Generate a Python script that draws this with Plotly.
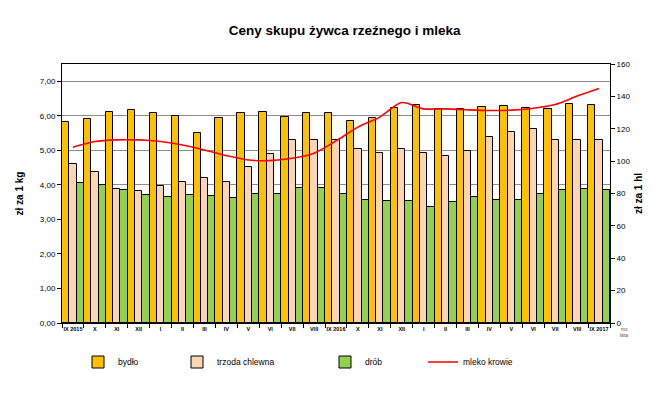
import plotly.graph_objects as go

months = ["IX 2015", "X", "XI", "XII", "I", "II", "III", "IV", "V", "VI", "VII", "VIII",
          "IX 2016", "X", "XI", "XII", "I", "II", "III", "IV", "V", "VI", "VII", "VIII", "IX 2017"]

bydlo = [5.82, 5.91, 6.11, 6.17, 6.09, 5.98, 5.50, 5.94, 6.09, 6.11, 5.97, 6.09,
         6.09, 5.85, 5.94, 6.23, 6.32, 6.20, 6.20, 6.26, 6.29, 6.23, 6.20, 6.35, 6.32]
trzoda = [4.60, 4.38, 3.88, 3.82, 3.96, 4.08, 4.20, 4.08, 4.52, 4.89, 5.30, 5.30,
          5.30, 5.04, 4.92, 5.04, 4.92, 4.84, 4.98, 5.39, 5.53, 5.62, 5.30, 5.30, 5.30]
drob = [4.05, 3.99, 3.85, 3.70, 3.64, 3.70, 3.67, 3.61, 3.73, 3.73, 3.91, 3.91,
        3.73, 3.56, 3.52, 3.52, 3.35, 3.50, 3.64, 3.56, 3.56, 3.73, 3.85, 3.88, 3.85]
mleko = [108.6, 112.1, 113.1, 113.1, 112.1, 110.0, 106.9, 103.4, 100.7, 100.3, 101.8, 104.9,
         112.5, 121.0, 127.2, 136.2, 132.3, 132.3, 131.7, 131.3, 131.5, 132.7, 135.0, 140.2, 144.9]

x = list(range(len(months)))
FONT = "Liberation Sans, Arial, sans-serif"
edge = dict(color="black", width=1)

L, R, T, B = 62, 47, 64, 73
W, H = 657, 396
PW, PH = W - L - R, H - T - B


def px_x(p):
    return (p - L) / PW


def px_y(p):
    return (H - B - p) / PH


fig = go.Figure()
fig.add_trace(go.Bar(x=x, y=bydlo, name="bydło", marker=dict(color="#FFC000", line=edge),
                     legend="legend"))
fig.add_trace(go.Bar(x=x, y=trzoda, name="trzoda chlewna", marker=dict(color="#FCD5B5", line=edge),
                     legend="legend2"))
fig.add_trace(go.Bar(x=x, y=drob, name="drób", marker=dict(color="#92D050", line=edge),
                     legend="legend3"))
fig.add_trace(go.Scatter(x=x, y=mleko, name="mleko krowie", mode="lines", yaxis="y2",
                         line=dict(color="#FF0000", width=1.6, shape="spline", smoothing=0.8),
                         legend="legend4"))

leg_common = dict(orientation="h", yanchor="middle", y=px_y(362), xanchor="left",
                  font=dict(family=FONT, size=8.5, color="black"), bgcolor="rgba(0,0,0,0)",
                  itemwidth=30)

fig.update_layout(
    width=W, height=H,
    margin=dict(l=L, r=R, t=T, b=B, autoexpand=False),
    paper_bgcolor="white", plot_bgcolor="white",
    separators=", ",
    barmode="group", bargap=0, bargroupgap=0,
    title=dict(text="<b>Ceny skupu żywca rzeźnego i mleka</b>", x=344.6 / W, xanchor="center",
               xref="container", y=1 - 30 / H, yref="container", yanchor="middle",
               font=dict(family=FONT, size=13.5, color="black")),
    font=dict(family=FONT, color="black"),
    xaxis=dict(range=[-0.5, len(months) - 0.5], tickvals=x, ticktext=months, ticks="",
               tickfont=dict(family=FONT, size=5.5, color="black", weight="bold"),
               showline=True, linecolor="black", linewidth=1, mirror=True, showgrid=False,
               zeroline=False, automargin=False,
               minor=dict(tickvals=[i - 0.5 for i in range(len(months) + 1)], ticks="outside",
                          ticklen=4, tickcolor="black", showgrid=False)),
    yaxis=dict(range=[0, 7.5], dtick=1, tick0=0, tickformat=".2f", ticks="outside", ticklen=4,
               tickcolor="black", showline=True, linecolor="black", linewidth=1,
               showgrid=True, gridcolor="#8C8C8C", gridwidth=1, zeroline=False, automargin=False,
               tickfont=dict(family=FONT, size=8, color="black"),
               title=dict(text="<b>zł za 1 kg</b>", font=dict(family=FONT, size=10, color="black"),
                          standoff=14)),
    yaxis2=dict(range=[0, 160], dtick=20, tick0=0, overlaying="y", side="right",
                ticks="outside", ticklen=4, tickcolor="black", showline=True, linecolor="black",
                linewidth=1, showgrid=False, zeroline=False, automargin=False,
                tickfont=dict(family=FONT, size=8, color="black"),
                title=dict(text="<b>zł za 1 hl</b>", font=dict(family=FONT, size=10, color="black"),
                           standoff=5)),
    showlegend=True,
    legend=dict(leg_common, x=px_x(78)),
    legend2=dict(leg_common, x=px_x(177)),
    legend3=dict(leg_common, x=px_x(325)),
    legend4=dict(leg_common, x=px_x(423)),
    annotations=[
        dict(text="mc", x=px_x(630), y=px_y(334), xref="paper", yref="paper",
             showarrow=False, font=dict(family=FONT, size=5, color="#555555")),
        dict(text="lata", x=px_x(630), y=px_y(340), xref="paper", yref="paper",
             showarrow=False, font=dict(family=FONT, size=5, color="#555555")),
    ],
)

fig.write_html("out.html", config={"displayModeBar": False},
               post_script="document.body.style.margin='0';")
